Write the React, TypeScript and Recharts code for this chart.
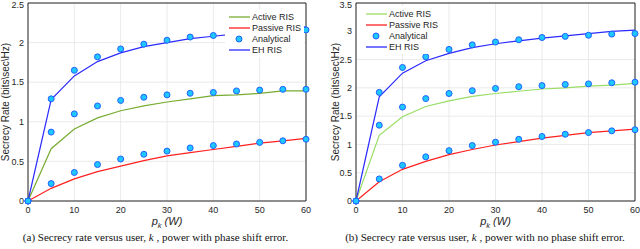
import React from 'react';
import { LineChart, Line, XAxis, YAxis, CartesianGrid, Legend, ReferenceLine } from 'recharts';

const pk = [0, 5, 10, 15, 20, 25, 30, 35, 40, 45, 50, 55, 60];

// (a) with phase shift error
const activeA = [0, 0.66, 0.91, 1.05, 1.14, 1.2, 1.25, 1.29, 1.33, 1.34, 1.36, 1.39, 1.39];
const passiveA = [0, 0.16, 0.28, 0.37, 0.44, 0.51, 0.57, 0.61, 0.65, 0.69, 0.73, 0.76, 0.79];
const ehA = [0, 1.28, 1.58, 1.76, 1.87, 1.95, 2.0, 2.05, 2.08, 2.11, 2.14, 2.17, 2.2];
const anActiveA = [0, 0.87, 1.1, 1.2, 1.27, 1.31, 1.34, 1.36, 1.37, 1.39, 1.4, 1.41, 1.41];
const anPassiveA = [0, 0.22, 0.36, 0.46, 0.53, 0.59, 0.63, 0.67, 0.7, 0.72, 0.74, 0.76, 0.78];
const anEhA = [0, 1.29, 1.65, 1.82, 1.92, 1.98, 2.03, 2.07, 2.09, 2.12, 2.14, 2.15, 2.16];

// (b) no phase shift error
const activeB = [0, 1.16, 1.49, 1.67, 1.77, 1.85, 1.9, 1.94, 1.98, 2.0, 2.03, 2.05, 2.08];
const passiveB = [0, 0.34, 0.56, 0.7, 0.82, 0.91, 0.99, 1.05, 1.11, 1.16, 1.21, 1.24, 1.27];
const ehB = [0, 1.84, 2.26, 2.48, 2.61, 2.71, 2.78, 2.83, 2.88, 2.92, 2.96, 3.0, 3.02];
const anActiveB = [0, 1.34, 1.66, 1.81, 1.9, 1.95, 1.99, 2.02, 2.04, 2.06, 2.07, 2.09, 2.1];
const anPassiveB = [0, 0.39, 0.63, 0.78, 0.89, 0.98, 1.04, 1.09, 1.14, 1.18, 1.21, 1.24, 1.26];
const anEhB = [0, 1.92, 2.36, 2.55, 2.68, 2.76, 2.81, 2.85, 2.89, 2.91, 2.93, 2.95, 2.96];

const xTicks = [0, 10, 20, 30, 40, 50, 60];
const yTicksA = [0, 0.5, 1, 1.5, 2, 2.5];
const yTicksB = [0, 0.5, 1, 1.5, 2, 2.5, 3, 3.5];

const BLUE = '#2b2bff';
const RED = '#ff2020';
const DOT_FILL = '#1ec8ff';
const DOT_EDGE = '#2060ff';
const AXIS = '#262626';
const FONT = '"Liberation Sans", Arial, sans-serif';

const build = (a: number[], p: number[], e: number[], aa: number[], ap: number[], ae: number[]) =>
  pk.map((x, i) => ({ pk: x, active: a[i], passive: p[i], eh: e[i], anActive: aa[i], anPassive: ap[i], anEh: ae[i] }));

const dataA = build(activeA, passiveA, ehA, anActiveA, anPassiveA, anEhA);
const dataB = build(activeB, passiveB, ehB, anActiveB, anPassiveB, anEhB);

const XLabel = ({ viewBox }: any) => {
  const cx = viewBox.x + viewBox.width / 2;
  return (
    <text x={cx} y={viewBox.y + 24} textAnchor="middle" fontSize={11} fontFamily={FONT} fill={AXIS} fontStyle="italic">
      <tspan>p</tspan>
      <tspan dy={3} fontSize={7.5}>k</tspan>
      <tspan dy={-3}> (W)</tspan>
    </text>
  );
};

const makeLegend = (green: string) => () => (
  <div style={{ background: '#fff', fontFamily: FONT, fontSize: 9, color: AXIS, padding: '2px 3px', whiteSpace: 'nowrap' }}>
    {[
      { name: 'Active RIS', color: green, line: true },
      { name: 'Passive RIS', color: RED, line: true },
      { name: 'Analytical', color: DOT_FILL, line: false },
      { name: 'EH RIS', color: BLUE, line: true },
    ].map((it) => (
      <div key={it.name} style={{ display: 'flex', alignItems: 'center', height: 11 }}>
        <svg width={22} height={10} style={{ marginRight: 2 }}>
          {it.line ? (
            <line x1={1} y1={5} x2={22} y2={5} stroke={it.color} strokeWidth={1.3} />
          ) : (
            <circle cx={11} cy={5} r={3} fill={DOT_FILL} stroke={DOT_EDGE} strokeWidth={1} />
          )}
        </svg>
        <span>{it.name}</span>
      </div>
    ))}
  </div>
);

interface PanelProps {
  data: any[];
  yMax: number;
  yTicks: number[];
  green: string;
  yAxisWidth: number;
  yLabelOffset: number;
  rightMargin: number;
  legendPos: { left: number; top: number };
}

const Panel = ({ data, yMax, yTicks, green, yAxisWidth, yLabelOffset, rightMargin, legendPos }: PanelProps) => {
  const dot = { r: 3, fill: DOT_FILL, stroke: DOT_EDGE, strokeWidth: 1 };
  return (
    <LineChart width={320} height={231} data={data} margin={{ top: 3, right: rightMargin, bottom: 0, left: 0 }}>
      <CartesianGrid stroke="#e4e4e4" strokeWidth={0.8} />
      <XAxis
        dataKey="pk"
        type="number"
        domain={[0, 60]}
        ticks={xTicks}
        height={30}
        tickSize={0}
        tickMargin={6}
        tick={{ fontSize: 9, fontFamily: FONT, fill: AXIS }}
        axisLine={{ stroke: AXIS }}
        label={<XLabel />}
      />
      <YAxis
        type="number"
        domain={[0, yMax]}
        ticks={yTicks}
        width={yAxisWidth}
        tickSize={0}
        tickMargin={4}
        tick={{ fontSize: 9, fontFamily: FONT, fill: AXIS }}
        axisLine={{ stroke: AXIS }}
        label={{
          value: 'Secrecy Rate (bits\\sec\\Hz)',
          angle: -90,
          position: 'insideLeft',
          offset: yLabelOffset,
          style: { textAnchor: 'middle', fontSize: 10, fontFamily: FONT, fill: AXIS },
        }}
      />
      <ReferenceLine x={60} stroke={AXIS} />
      <ReferenceLine y={yMax} stroke={AXIS} />
      <Line dataKey="active" stroke={green} strokeWidth={1.2} dot={false} isAnimationActive={false} />
      <Line dataKey="passive" stroke={RED} strokeWidth={1.2} dot={false} isAnimationActive={false} />
      <Line dataKey="eh" stroke={BLUE} strokeWidth={1.2} dot={false} isAnimationActive={false} />
      <Line dataKey="anActive" stroke="none" dot={dot} isAnimationActive={false} />
      <Line dataKey="anPassive" stroke="none" dot={dot} isAnimationActive={false} />
      <Line dataKey="anEh" stroke="none" dot={dot} isAnimationActive={false} />
      <Legend
        layout="horizontal"
        align="center"
        verticalAlign="middle"
        content={makeLegend(green)}
        wrapperStyle={{ left: legendPos.left, top: legendPos.top, width: 'auto' }}
      />
    </LineChart>
  );
};

const captionStyle: React.CSSProperties = {
  position: 'absolute',
  top: 231,
  fontFamily: '"Liberation Serif", "Times New Roman", serif',
  fontSize: 11,
  lineHeight: '12px',
  color: '#111',
  whiteSpace: 'nowrap',
  textAlign: 'center',
};

export default function App() {
  return (
    <div style={{ position: 'absolute', left: 0, top: 0, width: 640, height: 249, background: '#fff', overflow: 'hidden' }}>
      <div style={{ position: 'absolute', left: 0, top: 0 }}>
        <Panel
          data={dataA}
          yMax={2.5}
          yTicks={yTicksA}
          green="#77ac30"
          yAxisWidth={28}
          yLabelOffset={5}
          rightMargin={14}
          legendPos={{ left: 225, top: 9 }}
        />
      </div>
      <div style={{ position: 'absolute', left: 320, top: 0 }}>
        <Panel
          data={dataB}
          yMax={3.5}
          yTicks={yTicksB}
          green="#99dd66"
          yAxisWidth={36}
          yLabelOffset={15}
          rightMargin={5}
          legendPos={{ left: 42, top: 6 }}
        />
      </div>
      <div style={{ ...captionStyle, left: 0, width: 311 }}>
        (a) Secrecy rate versus user, <i>k</i> , power with phase shift error.
      </div>
      <div style={{ ...captionStyle, left: 335, width: 300 }}>
        (b) Secrecy rate versus user, <i>k</i> , power with no phase shift error.
      </div>
    </div>
  );
}
